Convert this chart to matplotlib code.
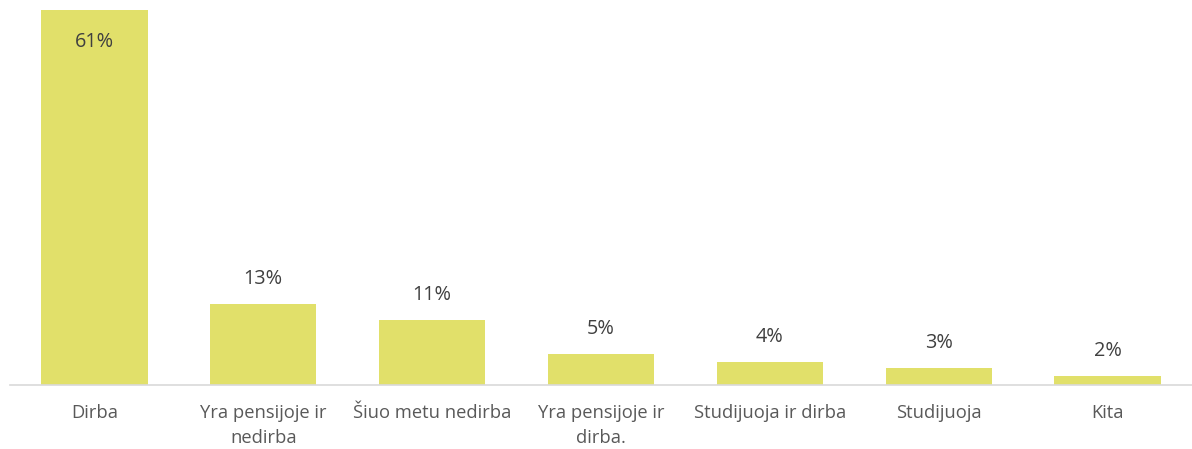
import matplotlib.pyplot as plt

plt.rcParams['font.family'] = ['Open Sans', 'DejaVu Sans']

categories = ['Dirba', 'Yra pensijoje ir\nnedirba', 'Šiuo metu nedirba', 'Yra pensijoje ir\ndirba.',
              'Studijuoja ir dirba', 'Studijuoja', 'Kita']
values = [61.0, 13.2, 10.6, 5.0, 3.7, 2.8, 1.5]
labels = ['61%', '13%', '11%', '5%', '4%', '3%', '2%']

fig = plt.figure(figsize=(11.92, 4.49), dpi=100)
ax = fig.add_axes([10 / 1192, 1 - 385 / 449, 1 - 10 / 1192, 375 / 449])

x = range(len(categories))
bars = ax.bar(x, values, width=0.63, color='#E1E06A', zorder=2)

ax.set_xlim(-0.5, len(categories) - 0.5)
ax.set_ylim(0, max(values))

for b, lab in zip(bars, labels):
    h = b.get_height()
    off = -32 if h >= max(values) else 25
    ax.annotate(lab, (b.get_x() + b.get_width() / 2, h), xytext=(0, off),
                textcoords='offset pixels', ha='center', va='center',
                fontsize=14.3, color='#404040')

ax.set_xticks(list(x))
ax.set_xticklabels(categories, fontsize=13.2, color='#595959', linespacing=1.5)
ax.tick_params(axis='x', length=0, pad=14)
ax.set_yticks([])
for s in ['top', 'right', 'left']:
    ax.spines[s].set_visible(False)
ax.spines['bottom'].set_color('#D9D9D9')
ax.spines['bottom'].set_linewidth(1.2)
ax.spines['bottom'].set_zorder(3)

fig.savefig('out.png', dpi=100)
